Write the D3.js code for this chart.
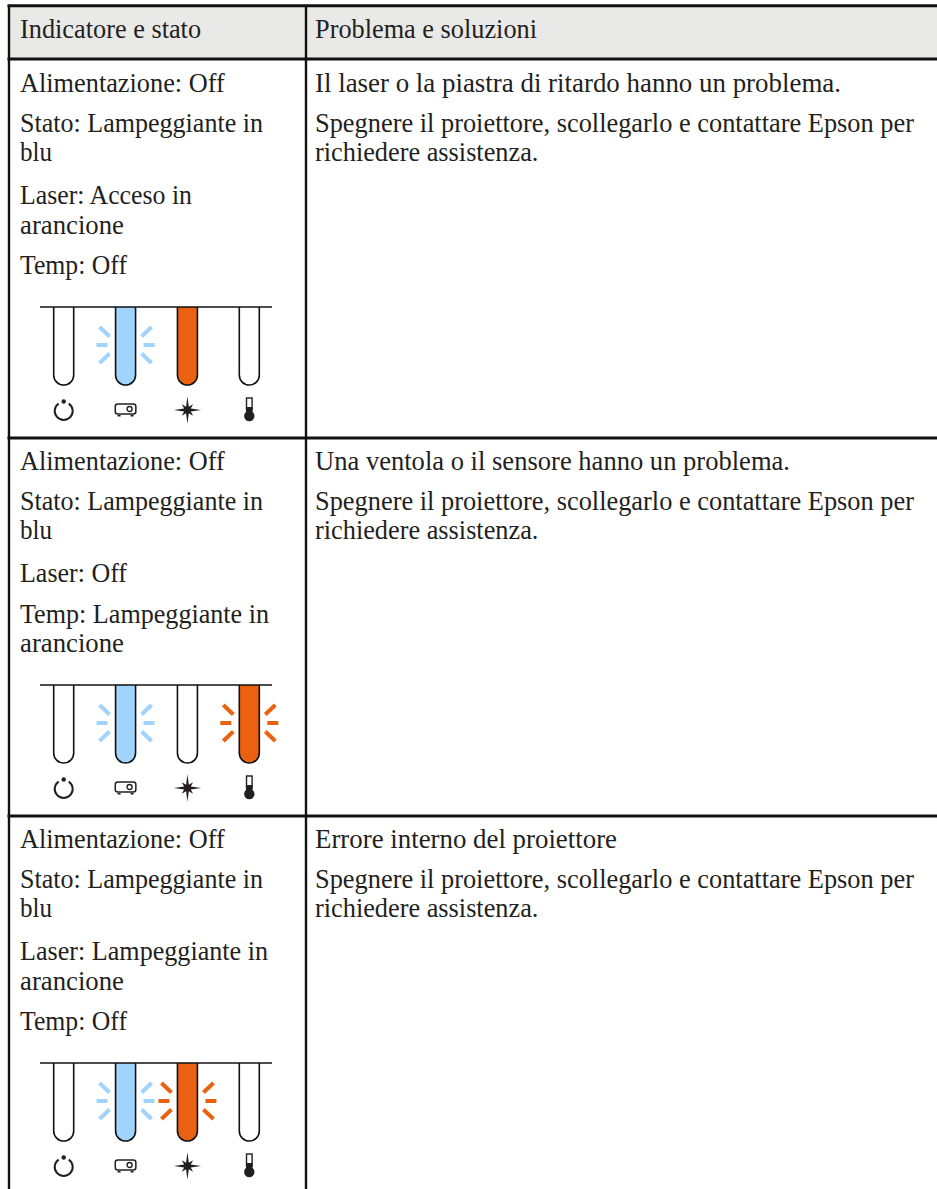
<!DOCTYPE html>
<html>
<head>
<meta charset="utf-8">
<script src="https://cdn.jsdelivr.net/npm/d3@7"></script>
<style>
  html, body { margin: 0; padding: 0; background: #fff; }
  text { font-family: "Liberation Serif", serif; font-size: 26.3px; fill: #231f20; }
</style>
</head>
<body>
<div id="chart"></div>
<script>
var headers = ["Indicatore e stato", "Problema e soluzioni"];

// text of each row, one entry per rendered line
var leftLines = [
  ["Alimentazione: Off", "Stato: Lampeggiante in", "blu", "Laser: Acceso in", "arancione", "Temp: Off"],
  ["Alimentazione: Off", "Stato: Lampeggiante in", "blu", "Laser: Off", "Temp: Lampeggiante in", "arancione"],
  ["Alimentazione: Off", "Stato: Lampeggiante in", "blu", "Laser: Lampeggiante in", "arancione", "Temp: Off"]
];
var rightLines = [
  ["Il laser o la piastra di ritardo hanno un problema.", "Spegnere il proiettore, scollegarlo e contattare Epson per", "richiedere assistenza."],
  ["Una ventola o il sensore hanno un problema.", "Spegnere il proiettore, scollegarlo e contattare Epson per", "richiedere assistenza."],
  ["Errore interno del proiettore", "Spegnere il proiettore, scollegarlo e contattare Epson per", "richiedere assistenza."]
];
var leftBaselines = [
  [92, 132, 161, 204, 234, 274],
  [470, 510, 539, 582, 623, 652],
  [848, 888, 917, 960, 990, 1030]
];
var rightBaselines = [
  [92, 132, 161],
  [470, 510, 539],
  [848, 888, 917]
];
// the original font runs a bit wider or narrower than Liberation Serif on these lines
var fittedWidths = {
  "Il laser o la piastra di ritardo hanno un problema.": 526,
  "Una ventola o il sensore hanno un problema.": 475,
  "Errore interno del proiettore": 302,
  "Spegnere il proiettore, scollegarlo e contattare Epson per": 599,
  "Stato: Lampeggiante in": 243,
  "Temp: Lampeggiante in": 249,
  "Laser: Lampeggiante in": 248,
  "Laser: Acceso in": 172,
  "arancione": 104,
  "Temp: Off": 107,
  "Laser: Off": 107,
  "blu": 32
};

var lamps = ["power", "status", "laser", "temp"];
// lamp states per row: off, on, blink
var lampStates = [
  { power: "off", status: "blink", laser: "on", temp: "off" },
  { power: "off", status: "blink", laser: "off", temp: "blink" },
  { power: "off", status: "blink", laser: "blink", temp: "off" }
];
var lampColors = { power: "#a0d4fd", status: "#a0d4fd", laser: "#ea6211", temp: "#ea6211" };
var panelTops = [307, 685, 1063];
var rowLines = [59, 438, 816];

var W = 937, H = 1189;
var dividerX = 306, leftX = 9;

var svg = d3.select("#chart").append("svg")
  .attr("width", W).attr("height", H).style("display", "block");

var x = d3.scalePoint().domain(lamps).range([63.7, 249.3]);

// header band
svg.append("rect").attr("x", leftX).attr("y", 6).attr("width", W - leftX).attr("height", 53).attr("fill", "#e9e9e8");

// table rules
svg.selectAll(".hrule").data([5.8].concat(rowLines)).enter().append("line")
  .attr("class", "hrule")
  .attr("x1", leftX - 1.5).attr("x2", W)
  .attr("y1", function(d) { return d; }).attr("y2", function(d) { return d; })
  .attr("stroke", "#111").attr("stroke-width", 3);

svg.selectAll(".vrule").data([leftX, dividerX]).enter().append("line")
  .attr("class", "vrule")
  .attr("x1", function(d) { return d; }).attr("x2", function(d) { return d; })
  .attr("y1", 5).attr("y2", H)
  .attr("stroke", "#111").attr("stroke-width", 2.4);

// header text
svg.selectAll(".head").data(headers).enter().append("text")
  .attr("class", "head")
  .attr("x", function(d, i) { return i == 0 ? 20 : 315; })
  .attr("y", 38)
  .text(function(d) { return d; });

function drawLines(lines, baselines, tx) {
  lines.forEach(function(row, r) {
    svg.append("g").selectAll("text").data(row).enter().append("text")
      .attr("x", tx)
      .attr("y", function(d, i) { return baselines[r][i]; })
      .attr("textLength", function(d) { return fittedWidths[d] || null; })
      .attr("lengthAdjust", "spacingAndGlyphs")
      .text(function(d) { return d; });
  });
}
drawLines(leftLines, leftBaselines, 20);
drawLines(rightLines, rightBaselines, 315);

// lamp tube, open at the top, round at the bottom
function tube(r, h) {
  var p = d3.path();
  p.moveTo(-r, 0);
  p.lineTo(-r, h - r);
  p.arc(0, h - r, r, Math.PI, 0, true);
  p.lineTo(r, 0);
  return p.toString();
}

// blink rays around a lamp: sides are short, diagonals sit closer to the tube ends
var sideRays = [-1, 1];
var diagRays = [[-1, -1], [1, -1], [-1, 1], [1, 1]];

function drawRays(g, color) {
  g.selectAll(".side").data(sideRays).enter().append("line")
    .attr("class", "side")
    .attr("x1", function(d) { return d * 18; }).attr("x2", function(d) { return d * 29; })
    .attr("y1", 38).attr("y2", 38)
    .attr("stroke", color).attr("stroke-width", 4);
  g.selectAll(".diag").data(diagRays).enter().append("line")
    .attr("class", "diag")
    .attr("x1", function(d) { return d[0] * 16; }).attr("x2", function(d) { return d[0] * 26; })
    .attr("y1", function(d) { return 38 + d[1] * 8.5; }).attr("y2", function(d) { return 38 + d[1] * 18; })
    .attr("stroke", color).attr("stroke-width", 4);
}

function drawIcon(g, name) {
  var ink = "#231f20";
  if (name == "power") {
    g.append("path").attr("fill", "none").attr("stroke", ink).attr("stroke-width", 2)
      .attr("transform", "translate(0,1)")
      .attr("d", d3.arc()({ innerRadius: 9, outerRadius: 9, startAngle: 0.6, endAngle: 2 * Math.PI - 0.6 }));
    g.append("circle").attr("cy", -8.5).attr("r", 2.2).attr("fill", ink);
  } else if (name == "status") {
    g.append("rect").attr("x", -10.3).attr("y", -6).attr("width", 20.6).attr("height", 10).attr("rx", 2.5)
      .attr("fill", "none").attr("stroke", ink).attr("stroke-width", 1.5);
    g.append("circle").attr("cx", 4).attr("cy", -1).attr("r", 2.5)
      .attr("fill", "none").attr("stroke", ink).attr("stroke-width", 1.4);
    g.selectAll(".foot").data([-8, 5]).enter().append("rect")
      .attr("x", function(d) { return d; }).attr("y", 5).attr("width", 3).attr("height", 1.5).attr("fill", ink);
  } else if (name == "laser") {
    // eight pointed star, long on the axes
    var radii = [13.7, 3.6, 8, 3.6];
    var pts = d3.range(16).map(function(i) { return [i * Math.PI / 8, radii[i % 4]]; });
    g.append("path").attr("fill", ink)
      .attr("d", d3.lineRadial().curve(d3.curveLinearClosed)(pts));
  } else {
    g.append("rect").attr("x", -2.8).attr("y", -12).attr("width", 5.6).attr("height", 12)
      .attr("fill", "#fff").attr("stroke", ink).attr("stroke-width", 1.4);
    g.append("rect").attr("x", -3.2).attr("y", -3).attr("width", 6.4).attr("height", 7).attr("fill", ink);
    g.append("circle").attr("cy", 6).attr("r", 5.2).attr("fill", ink);
  }
}

lampStates.forEach(function(state, r) {
  var panel = svg.append("g").attr("transform", "translate(0," + panelTops[r] + ")");

  lamps.forEach(function(name) {
    var g = panel.append("g").attr("transform", "translate(" + x(name) + ",0)");
    var lit = state[name] != "off";

    g.append("path")
      .attr("d", tube(10, 78))
      .attr("fill", lit ? lampColors[name] : "#fff")
      .attr("stroke", "#111").attr("stroke-width", 1.6);

    if (state[name] == "blink") drawRays(g, lampColors[name]);

    drawIcon(g.append("g").attr("transform", "translate(0,103)"), name);
  });

  panel.append("line")
    .attr("x1", 40).attr("x2", 272).attr("y1", 0).attr("y2", 0)
    .attr("stroke", "#111").attr("stroke-width", 1.5);
});
</script>
</body>
</html>
